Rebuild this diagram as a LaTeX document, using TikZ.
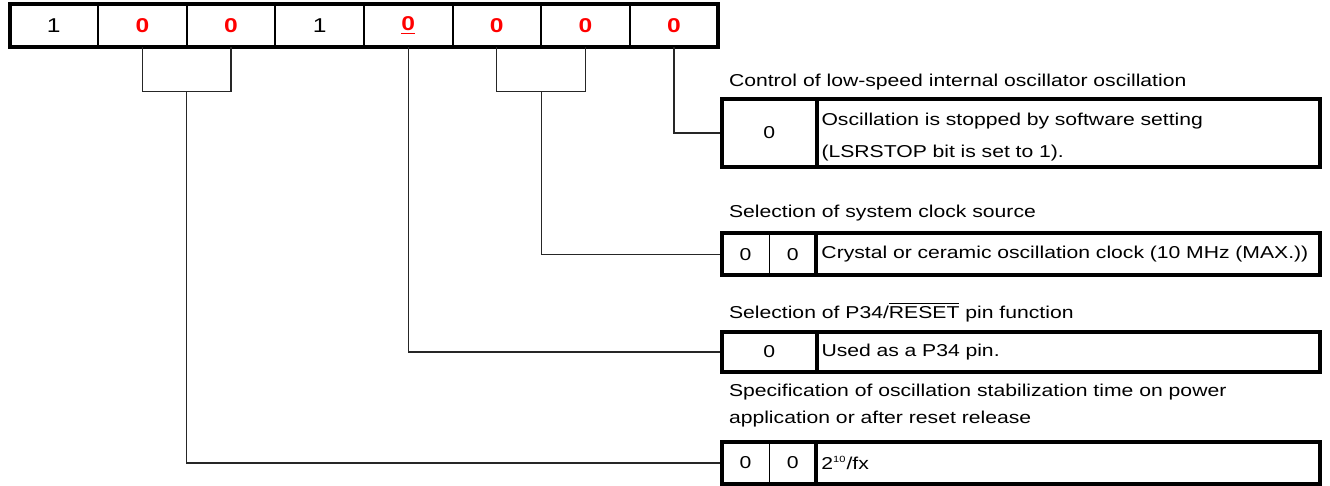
\documentclass[tikz,border=0pt]{standalone}
\usepackage{fontspec}
\setmainfont{Liberation Sans}[FakeStretch=1.23]
\usepackage{xcolor}
\usepackage{tikz}
\usetikzlibrary{positioning}

\begin{document}
\begin{tikzpicture}[x=0.5pt,y=-0.5pt,outer sep=0pt,
    cell/.style={draw,line width=1pt,minimum width=44.3pt,minimum height=21.6pt,inner sep=0pt,font=\fontsize{10}{12}\selectfont},
    setbit/.style={text=red,font=\fontsize{10}{12}\selectfont\bfseries},
    key/.style={minimum width=47.25pt,inner sep=0pt,font=\fontsize{8.6}{10}\selectfont},
    keyhalf/.style={key,minimum width=23.625pt},
    desc/.style={text width=246.75pt,inner xsep=2.5pt,inner ysep=0pt,align=left,font=\fontsize{8.6}{15.8}\selectfont},
    title/.style={anchor=base west,inner sep=0pt,align=left,font=\fontsize{8.6}{13.3}\selectfont},
    frame/.style={line width=2pt},
    wire/.style={line width=0.6pt,black!85}]
    \useasboundingbox (0,0) rectangle (1330,486);

    % register bits 7..0
    \node[cell] (b7) at (53.8,25.9) {1};
    \node[cell,setbit] (b6) at (142.4,25.9) {0};
    \node[cell,setbit] (b5) at (231.0,25.9) {0};
    \node[cell] (b4) at (319.6,25.9) {1};
    \node[cell,setbit] (b3) at (408.2,25.9) {\underline{0}};
    \node[cell,setbit] (b2) at (496.8,25.9) {0};
    \node[cell,setbit] (b1) at (585.4,25.9) {0};
    \node[cell,setbit] (b0) at (674.0,25.9) {0};
    \draw[frame] (b7.north west) rectangle (b0.south east);

    % setting tables
    \node[title] (t1) at (729,86.7) {Control of low-speed internal oscillator oscillation};
    \node[key,minimum height=34pt] (k1) at (769.25,133) {0};
    \node[desc,minimum height=34pt,right=0pt of k1] (d1) {\rule{0pt}{10.5pt}Oscillation is stopped by software setting\\(LSRSTOP bit is set to 1).};

    \node[title] (t2) at (729,217.5) {Selection of system clock source};
    \node[keyhalf,minimum height=20.9pt] (k2a) at (745.6,254.4) {0};
    \node[keyhalf,minimum height=20.9pt,right=0pt of k2a] (k2b) {0};
    \node[desc,minimum height=20.9pt,right=0pt of k2b] (d2) {Crystal or ceramic oscillation clock (10 MHz (MAX.))};

    \node[title] (t3) at (729,318.3) {Selection of P34/$\overline{\mbox{RESET}}$ pin function};
    \node[key,minimum height=20pt] (k3) at (769.25,352) {0};
    \node[desc,minimum height=20pt,right=0pt of k3] (d3) {Used as a P34 pin.};

    % base of a two-line node is its last line
    \node[title] (t4) at (729,423.3) {Specification of oscillation stabilization time on power\\application or after reset release};
    \node[keyhalf,minimum height=21pt] (k4a) at (745.6,463) {0};
    \node[keyhalf,minimum height=21pt,right=0pt of k4a] (k4b) {0};
    \node[desc,minimum height=21pt,right=0pt of k4b] (d4) {2\textsuperscript{\fontsize{4.5}{5}\selectfont 10}/fx};

    % connections
    \coordinate (j65) at (186.7,91.7);
    \coordinate (j21) at (541.1,91.7);
    \draw[wire] (b6.south) |- (j65) -| (b5.south);
    \draw[wire] (b2.south) |- (j21) -| (b1.south);
    \draw[wire] (b0.south) |- (k1.west);
    \draw[wire] (j21) |- (k2a.west);
    \draw[wire] (b3.south) |- (k3.west);
    \draw[wire] (j65) |- (k4a.west);

    % frames
    \draw[frame] (k1.north west) rectangle (d1.south east);
    \draw[frame] (k1.north east) -- (k1.south east);
    \draw[frame] (k2a.north west) rectangle (d2.south east);
    \draw[frame] (k2b.north east) -- (k2b.south east);
    \draw[line width=0.6pt] (k2a.north east) -- (k2a.south east);
    \draw[frame] (k3.north west) rectangle (d3.south east);
    \draw[frame] (k3.north east) -- (k3.south east);
    \draw[frame] (k4a.north west) rectangle (d4.south east);
    \draw[frame] (k4b.north east) -- (k4b.south east);
    \draw[line width=0.6pt] (k4a.north east) -- (k4a.south east);
\end{tikzpicture}
\end{document}
